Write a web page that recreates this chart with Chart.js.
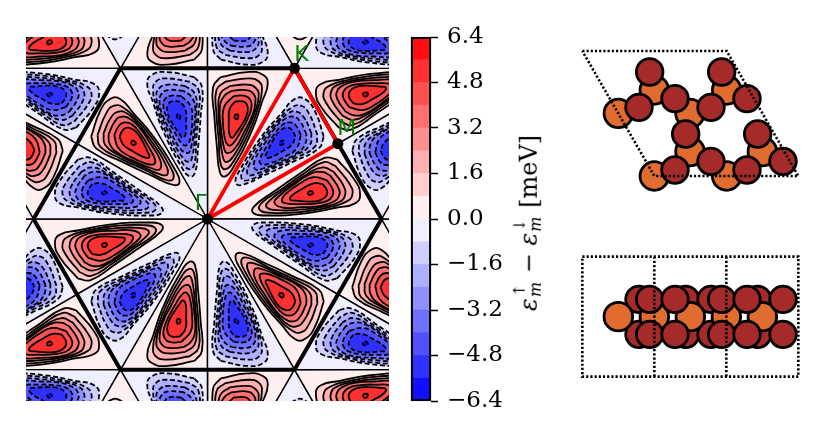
<!DOCTYPE html>
<html>
<head>
<meta charset="utf-8">
<script src="https://cdn.jsdelivr.net/npm/chart.js@4"></script>
<style>
html,body{margin:0;padding:0;background:#fff;width:830px;height:443px;overflow:hidden}
canvas{position:absolute;display:block}
#cblabel{position:absolute;left:530px;top:223px;transform:translate(-50%,-50%) rotate(-90deg);white-space:nowrap;font:24px "DejaVu Serif";color:#000;line-height:1}
#cblabel i{font-style:italic}
.st{display:inline-block;vertical-align:middle;text-align:left;font-size:16px;line-height:16px;margin:-6px 1px 0 1px}
.st span{display:block}
</style>
</head>
<body>
<canvas id="map" width="363" height="364" style="left:26px;top:37px"></canvas>
<canvas id="bar" width="100" height="394" style="left:410px;top:22px"></canvas>
<canvas id="top" width="235" height="155" style="left:575px;top:40px"></canvas>
<canvas id="side" width="235" height="135" style="left:575px;top:250px"></canvas>
<div id="cblabel"><i>ε</i><span class="st"><span>↑</span><span><i>m</i></span></span> − <i>ε</i><span class="st"><span>↓</span><span><i>m</i></span></span> [meV]</div>
<script>
// ---- colour bar values ----
const bandEdges = [-6.4,-5.6,-4.8,-4.0,-3.2,-2.4,-1.6,-0.8,0,0.8,1.6,2.4,3.2,4.0,4.8,5.6,6.4];
const bandColors = ['#1010ff','#3030ff','#5050ff','#7070ff','#8f8fff','#afafff','#cfcfff','#efefff',
                    '#ffefef','#ffcfcf','#ffafaf','#ff8f8f','#ff7070','#ff5050','#ff3030','#ff1010'];
const barTicks = [-6.4,-4.8,-3.2,-1.6,0,1.6,3.2,4.8,6.4];

// ---- one irreducible wedge of the map ----
const wedgeZero = [[0,0],[-261,452],[-391,226]];
const level08 = [[-349,247],[-322,324],[-292,360],[-262,360],[-222,317],[-162,247],[-97,147],[-84,110],[-102,102],[-172,132],[-257,172],[-334,212]];
const level16 = [[-330,252],[-304,317],[-280,340],[-252,334],[-212,297],[-162,237],[-112,157],[-102,122],[-124,117],[-187,147],[-262,182],[-322,217]];
const level24 = [[-312,257],[-290,304],[-267,322],[-242,317],[-207,284],[-167,232],[-127,167],[-120,134],[-142,134],[-202,160],[-267,192],[-307,222]];
const level32 = [[-297,254],[-277,294],[-257,307],[-232,300],[-202,272],[-172,227],[-142,177],[-142,150],[-162,150],[-222,174],[-272,200],[-294,227]];
const level40 = [[-280,252],[-264,282],[-247,290],[-227,284],[-202,257],[-177,217],[-157,177],[-162,164],[-187,167],[-232,187],[-267,212]];
const level48 = [[-264,247],[-252,269],[-237,274],[-217,264],[-197,237],[-180,202],[-174,187],[-187,184],[-222,202],[-252,222]];
const level56 = [[-229,233],[-224,236],[-216,230],[-215,225],[-221,222],[-228,226]];
const levelOutlines = [level08,level16,level24,level32,level40,level48,level56];

// ---- Brillouin zone path ----
const hexCorners = [[261,452],[-261,452],[-522,0],[-261,-452],[261,-452],[522,0]];
const bzPath = [[0,0],[261,452],[391,226]];
const bzNames = ['Γ','K','M'];
const bzNameSpots = [[-20,45],[282,492],[418,270]];

// ---- lattice images of the map ----
const latticeA = [783,452];
const latticeB = [0,904];
const imageSteps = [-2,-1,0,1,2];
const rotationSteps = [0,1,2,3,4,5];

// ---- atoms, top view ----
const topOrange = [[130,220],[238,150],[345,220],[455,150],[345,335],[238,408],[455,408],[562,335]];
const topBrown = [[224,96],[440,96],[192,202],[300,176],[408,202],[516,176],[332,282],[548,282],[300,390],[408,364],[516,390],[624,364]];
const topCell = [[22,33],[455,33],[670,408],[238,408],[22,33]];

// ---- atoms, side view ----
const sideOrange = [[130,200],[238,200],[346,200],[454,200],[562,200]];
const sideBrownBack = [[192,148],[332,148],[408,148],[548,148],[192,253],[332,253],[408,253],[548,253]];
const sideBrownFront = [[224,148],[300,148],[440,148],[516,148],[624,148],[224,253],[300,253],[440,253],[516,253],[624,253]];
const sideCell = [[22,20],[670,20],[670,380],[22,380],[22,20]];
const sideDivA = [[238,20],[238,380]];
const sideDivB = [[454,20],[454,380]];

const xy = a => a.map(p => ({x:p[0], y:p[1]}));

function placer(turn, flip, sx, sy){
  const c = Math.cos(turn*Math.PI/3), s = Math.sin(turn*Math.PI/3);
  return p => {
    let x = p[0], y = p[1];
    if (flip){ const nx = 0.5*x - 0.8660254*y, ny = -0.8660254*x - 0.5*y; x = nx; y = ny; }
    return {x: c*x - s*y + sx, y: s*x + c*y + sy};
  };
}

const drawList = [];
const view = 560;
for (const i of imageSteps) for (const j of imageSteps) {
  const sx = i*latticeA[0] + j*latticeB[0], sy = i*latticeA[1] + j*latticeB[1];
  for (const flip of [false,true]) for (const t of rotationSteps) {
    const place = placer(t, flip, sx, sy);
    const tri = wedgeZero.map(place);
    const xs = tri.map(p=>p.x), ys = tri.map(p=>p.y);
    if (Math.min(...xs)>view || Math.max(...xs)<-view || Math.min(...ys)>view || Math.max(...ys)<-view) continue;
    const base = flip ? 7 : 8;
    drawList.push({data:[...tri, tri[0]], fill:'shape', backgroundColor:bandColors[base], borderColor:'#000', borderWidth:1.4, tension:0, borderDash:[]});
    levelOutlines.forEach((ring, k) => {
      const pts = ring.map(place);
      pts.push(pts[0]);
      drawList.push({
        data: pts, fill:'shape',
        backgroundColor: bandColors[flip ? base-1-k : base+1+k],
        borderColor:'#000', borderWidth:1.8, tension:0.5,
        borderDash: flip ? [5,2.6] : []
      });
    });
  }
}
// hexagon and path on top
drawList.push({data:xy([...hexCorners,hexCorners[0]]), borderColor:'#000', borderWidth:4, tension:0, fill:false, borderDash:[]});
drawList.push({data:xy([...bzPath,bzPath[0]]), borderColor:'#ff0000', borderWidth:3.8, tension:0, fill:false, borderDash:[]});
drawList.push({data:xy(bzPath), showLine:false, pointRadius:5.5, pointBackgroundColor:'#000', pointBorderWidth:0, fill:false});

const nameLabels = {
  id:'nameLabels',
  afterDatasetsDraw(chart){
    const {ctx, scales:{x,y}} = chart;
    ctx.save();
    ctx.fillStyle='#008000';
    ctx.font='22px "DejaVu Sans"';
    ctx.textAlign='center'; ctx.textBaseline='middle';
    bzNames.forEach((n,i)=>ctx.fillText(n, x.getPixelForValue(bzNameSpots[i][0]), y.getPixelForValue(bzNameSpots[i][1])));
    ctx.restore();
  }
};

new Chart(document.getElementById('map'), {
  type:'scatter',
  data:{datasets:drawList.slice().reverse()},
  options:{
    responsive:false, animation:false,
    layout:{padding:0,autoPadding:false},
    elements:{point:{radius:0,hoverRadius:0}, line:{capBezierPoints:false, borderJoinStyle:'round'}},
    datasets:{scatter:{showLine:true, pointRadius:0}},
    events:[],
    plugins:{legend:{display:false},tooltip:{enabled:false},filler:{drawTime:'beforeDatasetDraw',propagate:false}},
    scales:{
      x:{type:'linear',min:-544.5,max:544.5,display:false},
      y:{type:'linear',min:-546,max:546,display:false}
    }
  },
  plugins:[nameLabels]
});

// ---- colour bar ----
const barSets = [{data:[[-6.4,6.4]], backgroundColor:'rgba(0,0,0,0)', borderColor:'#000', borderWidth:1.6, borderSkipped:false, clip:false}];
bandColors.forEach((c,i)=>barSets.push({data:[[bandEdges[i],bandEdges[i+1]]], backgroundColor:c, borderWidth:0}));
new Chart(document.getElementById('bar'), {
  type:'bar',
  data:{labels:[''], datasets:barSets},
  options:{
    responsive:false, animation:false, events:[],
    layout:{padding:{top:15,bottom:15,left:1,right:0},autoPadding:false},
    datasets:{bar:{grouped:false,barPercentage:1,categoryPercentage:1}},
    plugins:{legend:{display:false},tooltip:{enabled:false}},
    scales:{
      x:{display:false},
      y:{
        position:'right', min:-6.4, max:6.4,
        afterFit(s){s.width=79;s.paddingTop=0;s.paddingBottom=0;},
        afterBuildTicks(s){s.ticks=barTicks.map(v=>({value:v}));},
        grid:{drawOnChartArea:false,drawTicks:true,tickLength:7,tickWidth:1.5,tickColor:'#000'},
        border:{display:false},
        ticks:{
          autoSkip:false, padding:9, color:'#000', align:'center', crossAlign:'near',
          font:{family:'"DejaVu Serif"',size:23},
          callback:v=>(v<0?'−':'')+Math.abs(v).toFixed(1)
        }
      }
    }
  }
});

// ---- atom panels ----
function atoms(a,color,r){return {data:xy(a),showLine:false,pointRadius:r,pointBackgroundColor:color,pointBorderColor:'#000',pointBorderWidth:2.8,clip:false};}
function dots(a){return {data:xy(a),showLine:true,pointRadius:0,borderColor:'#000',borderWidth:2.6,borderDash:[2.2,2],fill:false,tension:0};}
function panel(id,w,h,sets){
  new Chart(document.getElementById(id),{
    type:'scatter',
    data:{datasets:sets},
    options:{
      responsive:false,animation:false,events:[],
      layout:{padding:0,autoPadding:false},
      plugins:{legend:{display:false},tooltip:{enabled:false}},
      scales:{
        x:{type:'linear',min:0,max:w,display:false},
        y:{type:'linear',min:0,max:h,reverse:true,display:false}
      }
    }
  });
}
const orange='#e06c30', brown='#a52a2a';
// first dataset is painted last
panel('top',705,465,[dots(topCell),atoms(topBrown,brown,13.3),atoms(topOrange,orange,14.3)]);
panel('side',705,405,[dots(sideCell),dots(sideDivA),dots(sideDivB),atoms(sideBrownFront,brown,13.3),atoms(sideOrange,orange,14.3),atoms(sideBrownBack,brown,13.3)]);
</script>
</body>
</html>
